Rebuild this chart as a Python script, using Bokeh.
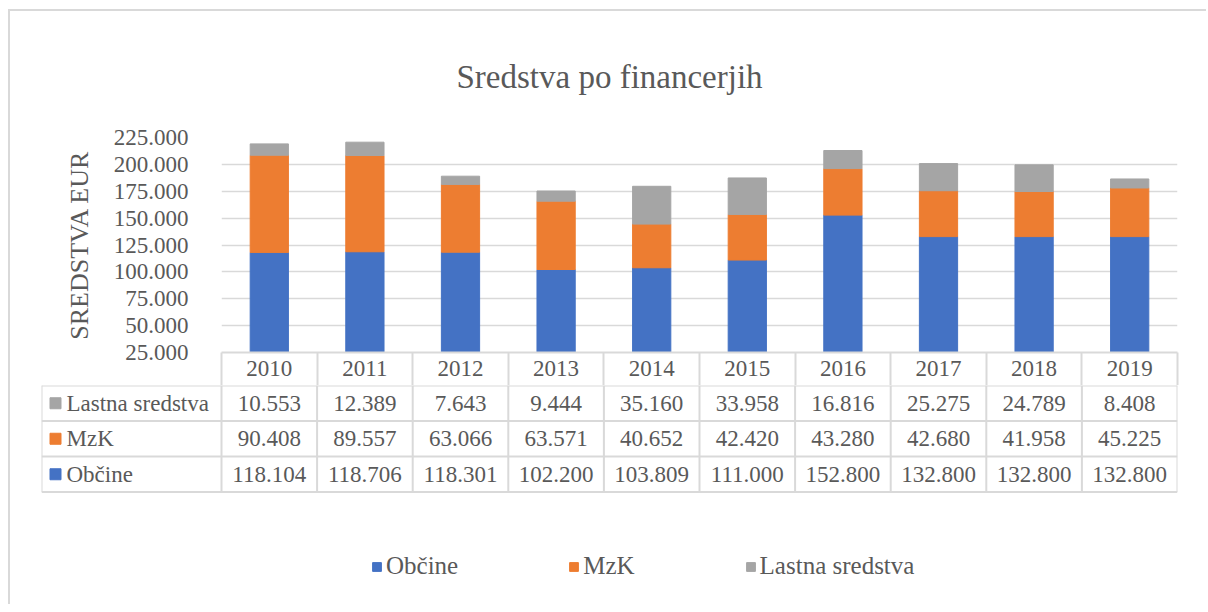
from bokeh.plotting import figure
from bokeh.layouts import column
from bokeh.models import ColumnDataSource, Range1d, FixedTicker, Legend, LegendItem
from bokeh.core.properties import value
from bokeh.embed import file_html
from bokeh.resources import INLINE

# ---------------- data ----------------
years = ["2010", "2011", "2012", "2013", "2014", "2015", "2016", "2017", "2018", "2019"]
obcine = [118104, 118706, 118301, 102200, 103809, 111000, 152800, 132800, 132800, 132800]
mzk = [90408, 89557, 63066, 63571, 40652, 42420, 43280, 42680, 41958, 45225]
lastna = [10553, 12389, 7643, 9444, 35160, 33958, 16816, 25275, 24789, 8408]
series_names = ["Občine", "MzK", "Lastna sredstva"]
series_colors = ["#4472C4", "#ED7D31", "#A5A5A5"]
y_ticks = [25000, 50000, 75000, 100000, 125000, 150000, 175000, 200000, 225000]
title_text = "Sredstva po financerjih"
y_label = "SREDSTVA EUR"

# ---------------- style ----------------
FONT_NAME = "Liberation Serif"
FONT = value(FONT_NAME)
TXT = "#595959"
GRID = "#d9d9d9"
W = 1196
P1_LEFT, P2_LEFT, RIGHT = 211, 31, 29
P1_TOP, P1_FRAME_H, P1_BOTTOM = 126, 215, 33
P2_H = 219
ROW_PX = 35.5
NUM_SIZE = "23px"

def fmt(v):
    return f"{v:,}".replace(",", ".")

n = len(years)
centers = [i + 0.5 for i in range(n)]
bounds = list(range(n + 1))

# ---------------- chart ----------------
src = ColumnDataSource(dict(x=centers, obcine=obcine, mzk=mzk, lastna=lastna))
p1 = figure(width=W, height=P1_TOP + P1_FRAME_H + P1_BOTTOM,
            x_range=Range1d(0, n), y_range=Range1d(y_ticks[0], y_ticks[-1]),
            output_backend="svg", toolbar_location=None,
            min_border_left=P1_LEFT, min_border_right=RIGHT,
            min_border_top=P1_TOP, min_border_bottom=P1_BOTTOM,
            outline_line_color=None)
p1.vbar_stack(["obcine", "mzk", "lastna"], x="x", width=0.4, source=src,
              fill_color=series_colors, line_color=series_colors)

p1.title.text = title_text
p1.title.align = "left"
p1.title.offset = 235
p1.title.standoff = 86
p1.title.text_font = FONT_NAME
p1.title.text_font_size = "33px"
p1.title.text_font_style = "normal"
p1.title.text_color = TXT

ya = p1.yaxis[0]
ya.ticker = FixedTicker(ticks=y_ticks)
ya.major_label_overrides = {t: fmt(t) for t in y_ticks}
ya.axis_line_color = None
ya.major_tick_line_color = None
ya.minor_tick_line_color = None
ya.major_tick_out = 0
ya.minor_tick_out = 0
ya.major_label_standoff = 33
ya.major_label_text_font = FONT_NAME
ya.major_label_text_font_size = NUM_SIZE
ya.major_label_text_color = TXT
ya.axis_label = y_label
ya.axis_label_text_font = FONT_NAME
ya.axis_label_text_font_size = "26px"
ya.axis_label_text_font_style = "normal"
ya.axis_label_text_color = TXT
ya.axis_label_standoff = 17

xa = p1.xaxis[0]
xa.ticker = FixedTicker(ticks=centers, minor_ticks=bounds)
xa.major_label_overrides = {c: y for c, y in zip(centers, years)}
xa.major_tick_line_color = None
xa.major_tick_out = 0
xa.minor_tick_in = 0
xa.minor_tick_out = P1_BOTTOM
xa.minor_tick_line_color = GRID
xa.minor_tick_line_width = 2
xa.axis_line_color = GRID
xa.axis_line_width = 2
xa.major_label_standoff = 8 - P1_BOTTOM
xa.major_label_text_font = FONT_NAME
xa.major_label_text_font_size = NUM_SIZE
xa.major_label_text_color = TXT

p1.xgrid.visible = False
p1.ygrid.grid_line_color = GRID
p1.ygrid.grid_line_width = 1.5

# ---------------- data table ----------------
col_px = (W - P1_LEFT - RIGHT) / n
label_units = (P1_LEFT - P2_LEFT) / col_px
rows_total = P2_H / ROW_PX
p2 = figure(width=W, height=P2_H,
            x_range=Range1d(-label_units, n), y_range=Range1d(3 - rows_total, 3),
            output_backend="svg", toolbar_location=None,
            min_border_left=P2_LEFT, min_border_right=RIGHT,
            min_border_top=0, min_border_bottom=0,
            outline_line_color=None)
p2.axis.visible = False
p2.grid.visible = False

# table lines
for yv in [0, 1, 2, 3]:
    p2.line([-label_units, n], [yv, yv], line_color=GRID, line_width=2)
for xv in [-label_units] + bounds:
    p2.line([xv, xv], [0, 3], line_color=GRID, line_width=2)

table_rows = [("Lastna sredstva", lastna, series_colors[2], 2.5),
              ("MzK", mzk, series_colors[1], 1.5),
              ("Občine", obcine, series_colors[0], 0.5)]
legend_renderers = {}
for name, vals, colr, yc in table_rows:
    r = p2.rect(x=[-label_units + 14 / col_px], y=[yc], width=11, height=11,
                width_units="screen", height_units="screen",
                fill_color=colr, line_color=colr)
    legend_renderers[name] = r
    p2.text(x=[-label_units], y=[yc], text=[name], x_offset=25,
            text_align="left", text_baseline="middle",
            text_font=FONT, text_font_size=NUM_SIZE, text_color=TXT)
    p2.text(x=centers, y=[yc] * n, text=[fmt(v) for v in vals],
            text_align="center", text_baseline="middle",
            text_font=FONT, text_font_size=NUM_SIZE, text_color=TXT)

legend = Legend(items=[LegendItem(label=nm, renderers=[legend_renderers[nm]]) for nm in series_names],
                location=(330, 24), orientation="horizontal",
                border_line_color=None, background_fill_alpha=0,
                padding=0, margin=0, spacing=110,
                glyph_width=11, glyph_height=11, label_standoff=4,
                label_text_font=FONT_NAME, label_text_font_size="25px", label_text_color=TXT)
p2.add_layout(legend)

top_box = column(p1, styles={"margin-left": "8px", "margin-top": "9px",
                             "border-left": f"2px solid {GRID}", "border-top": f"2px solid {GRID}"})
bottom_box = column(p2, styles={"margin-left": "8px", "border-left": f"2px solid {GRID}"})

open("out.html", "w").write(file_html([top_box, bottom_box], INLINE))
